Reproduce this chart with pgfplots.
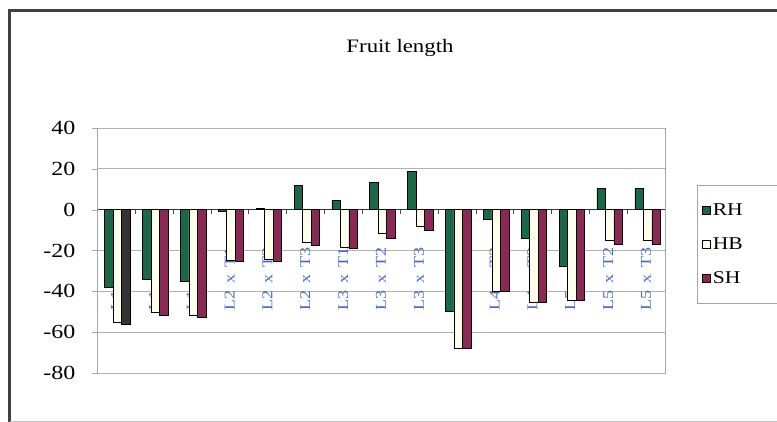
\documentclass[border=0pt]{standalone}
\usepackage{pgfplots}
\usepackage{pgfplotstable}
\pgfplotsset{compat=1.18}
\usepackage{fontspec}
\setmainfont{Liberation Serif}[FakeStretch=1.2]
\definecolor{rh}{RGB}{25,105,72}
\definecolor{sh}{RGB}{140,40,85}
\definecolor{hb}{RGB}{255,255,235}
\definecolor{lab}{RGB}{75,105,200}
\pgfplotstableread{
x rh hb sh
0 -38 -55 -55
1 -34 -50.5 -51.5
2 -35 -51.5 -52.5
3 -1 -25 -25.5
4 0.5 -24.5 -25.5
5 12 -16 -17.5
6 4.7 -18.5 -19
7 13.5 -11.5 -14
8 18.6 -8 -10
9 -50 -68 -68
10 -4.7 -40 -40
11 -14 -45.5 -45.5
12 -27.5 -44.5 -44.5
13 10.5 -15 -17
14 10.5 -15 -17
}\data
\begin{document}
\begin{tikzpicture}
\useasboundingbox (0pt,0pt) rectangle (777pt,422pt);
\draw[line width=3pt, black!75] (9.5pt,0pt) -- (9.5pt,411.5pt) -- (777pt,411.5pt);
\draw[gray!50, line width=0.8pt] (10pt,1pt) -- (777pt,1pt);
\node[font=\fontsize{19}{22}\selectfont] at (400pt,374pt) {Fruit length};
\begin{axis}[
  at={(97pt,49pt)}, anchor=south west,
  scale only axis, width=568pt, height=245pt,
  ymin=-80, ymax=40, ytick={-80,-60,...,40},
  xmin=-0.5, xmax=14.5,
  axis x line*=middle, axis y line*=left,
  axis background/.style={draw=gray!70, line width=0.8pt},
  x axis line style={line width=1.4pt, black!80},
  y axis line style={gray!70, line width=0.8pt},
  ybar, bar width=8.5pt,
  xtick={0,...,14},
  xticklabels={
    {L1\,~x\,~T1},{L1\,~x\,~T2},{L1\,~x\,~T3},
    {L2\,~x\,~T1},{L2\,~x\,~T2},{L2\,~x\,~T3},
    {L3\,~x\,~T1},{L3\,~x\,~T2},{L3\,~x\,~T3},
    {L4\,~x\,~T1},{L4\,~x\,~T2},{L4\,~x\,~T3},
    {L5\,~x\,~T1},{L5\,~x\,~T2},{L5\,~x\,~T3}},
  xticklabel style={rotate=90, anchor=east, font=\fontsize{15}{16}\selectfont, text=lab},
  xticklabel shift=29pt,
  major x tick style={draw=none},
  minor x tick num=1,
  minor x tick style={black!70},
  xtick align=outside,
  minor tick length=4pt,
  ytick align=outside,
  major tick length=5pt,
  ytick style={gray!70},
  ymajorgrids, y grid style={gray!60, line width=0.8pt},
  yticklabel style={font=\fontsize{20}{22}\selectfont},
  yticklabel shift=13pt,
  /pgf/number format/assume math mode=true,
  legend style={at={(1,0.5)}, anchor=west, xshift=32pt, yshift=6pt,
    draw=gray!70, font=\fontsize{18}{20}\selectfont, row sep=17pt,
    inner ysep=16pt, inner xsep=5pt},
  legend cell align=left,
  legend image code/.code={\draw[#1, draw=black, line width=0.6pt] (0pt,-4pt) rectangle (8pt,4pt);},
]
\addplot[fill=rh, draw=black, line width=0.6pt, bar shift=-7pt] table[x=x,y=rh]{\data};
\addlegendentry{\makebox[60pt][l]{RH}}
\addplot[fill=hb, draw=black, line width=0.6pt, bar shift=1.5pt] table[x=x,y=hb]{\data};
\addlegendentry{\makebox[60pt][l]{HB}}
\addplot[fill=sh, draw=black, line width=0.6pt, bar shift=10pt] table[x=x,y=sh]{\data};
\addlegendentry{\makebox[60pt][l]{SH}}
\addplot[fill=black!80, draw=black, line width=0.6pt, bar shift=10pt, forget plot] coordinates {(0,-56)};
\end{axis}
\end{tikzpicture}
\end{document}
